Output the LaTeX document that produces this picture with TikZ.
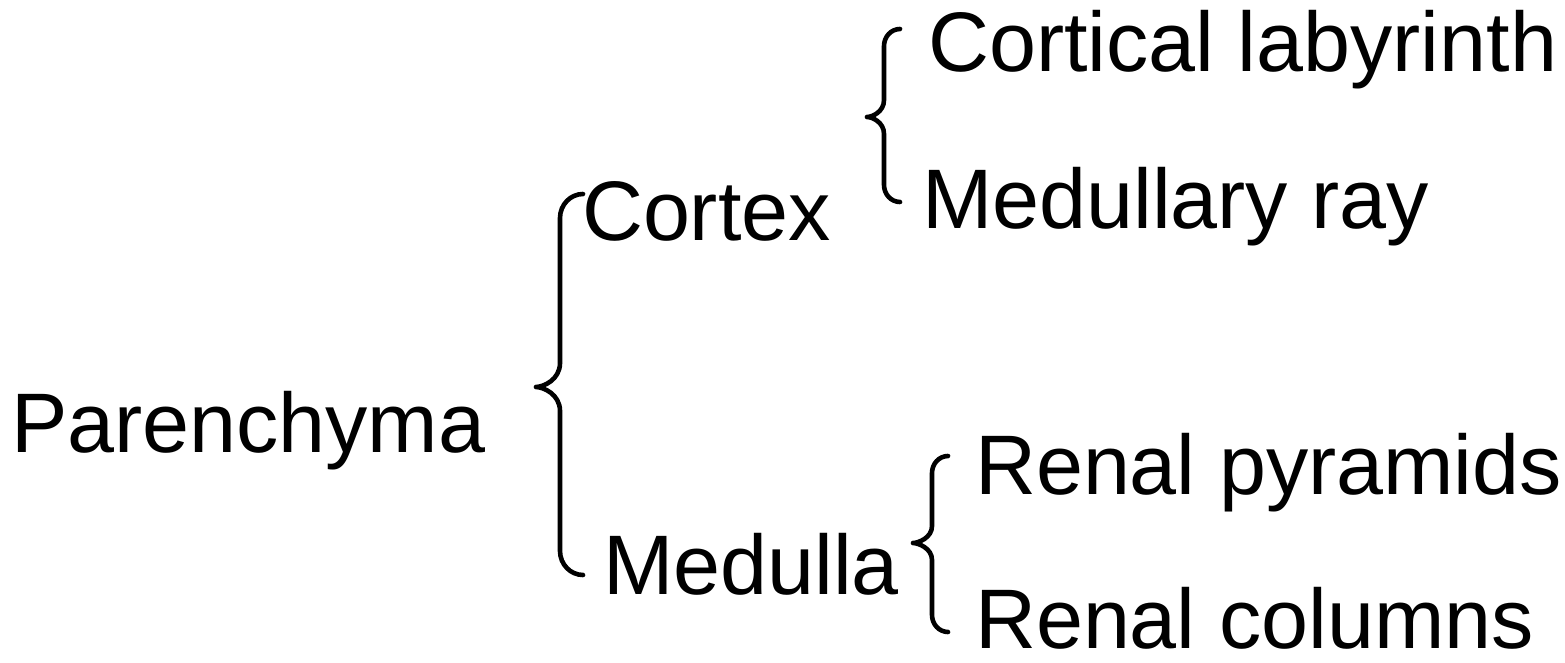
\documentclass[tikz,border=0pt]{standalone}
\usepackage{fontspec}
\setmainfont{Liberation Sans}
\newcommand{\mybrace}[7]{%
  % #1 end x, #2 top y, #3 vertical x, #4 tip x, #5 mid y, #6 bottom y, #7 radius
  \draw[bracestyle] (#1,#2) .. controls ({#3+0.45*(#1-#3)},#2) and (#3,{#2+0.45*#7}) .. (#3,#2+#7)
    -- (#3,#5-#7) .. controls (#3,#5-#7*0.3) and (#4+#7*0.3,#5) .. (#4,#5)
    .. controls (#4+#7*0.3,#5) and (#3,#5+#7*0.3) .. (#3,#5+#7)
    -- (#3,#6-#7) .. controls (#3,{#6-0.45*#7}) and ({#3+0.45*(#1-#3)},#6) .. (#1,#6);}
\begin{document}
\begin{tikzpicture}[x=1pt,y=-1pt,
  lbl/.style={anchor=base west,inner sep=0pt,outer sep=0pt,
    font=\fontsize{84.5}{100}\selectfont,text=black},
  bracestyle/.style={draw=black,line width=4.6pt,line cap=round,line join=round}]
\useasboundingbox (0,0) rectangle (1565,663);
\node[lbl] (par) at (11,452) {Parenchyma};
\node[lbl] (cor) at (582,240) {Cortex};
\node[lbl] (med) at (603,594) {Medulla};
\node[lbl] (cl) at (928,72) {Cortical labyrinth};
\node[lbl] (mr) at (922,228) {Medullary ray};
\node[lbl] (rp) at (975,494) {Renal pyramids};
\node[lbl] (rc) at (975,648) {Renal columns};
\mybrace{583}{194}{560}{536}{387}{575}{24}
\mybrace{900}{29}{884}{867}{117}{202}{17}
\mybrace{948}{456}{932}{913}{543}{632}{17}
\end{tikzpicture}
\end{document}
